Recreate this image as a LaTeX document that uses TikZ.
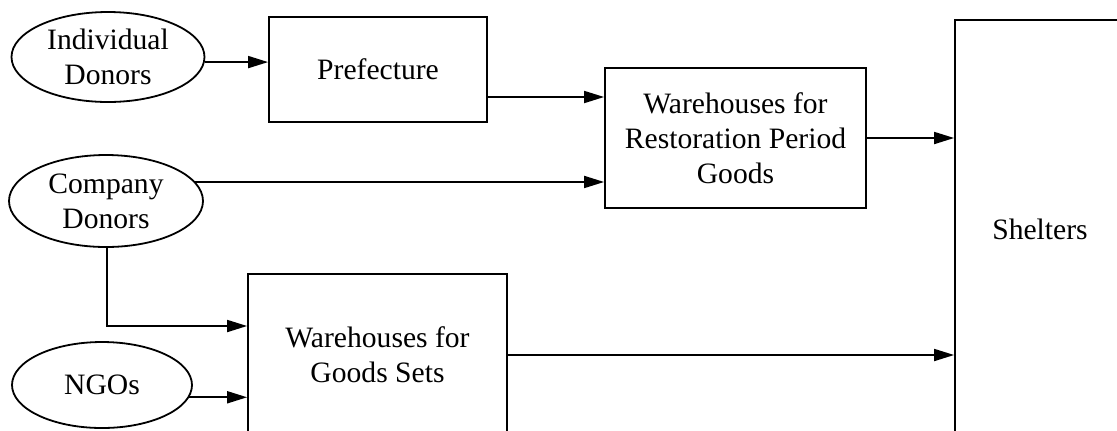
\documentclass[tikz,border=0pt]{standalone}
\usepackage{fontspec}
\setmainfont{Liberation Serif}
\usetikzlibrary{shapes.geometric,arrows.meta,calc}
\begin{document}
\begin{tikzpicture}[x=0.5pt,y=-0.5pt,
  every node/.style={font=\fontsize{14.8}{17.5}\selectfont, align=center, inner sep=0pt},
  donor/.style={draw, ellipse, line width=0.9pt},
  stage/.style={draw, rectangle, line width=0.9pt},
  flow/.style={line width=0.9pt, -{Triangle[length=10pt,width=6pt]}}]
\clip (0,0) rectangle (1117,430);

% sources of relief goods
\node[donor, minimum width=96.5pt, minimum height=45pt] (ind)  at (108,57)  {Individual\\Donors};
\node[donor, minimum width=97pt,   minimum height=46pt] (comp) at (106,201) {Company\\Donors};
\node[donor, minimum width=90pt,   minimum height=43pt] (ngo)  at (102,385) {NGOs};

% intermediate stages
\node[stage, minimum width=109pt,  minimum height=52.5pt] (pref)  at (378,69.5)  {Prefecture};
\node[stage, minimum width=130.5pt,minimum height=70pt]   (rest)  at (735.5,138) {Warehouses for\\Restoration Period\\Goods};
\node[stage, minimum width=129.5pt,minimum height=81pt]   (goods) at (377.5,355) {Warehouses for\\Goods Sets};

% destination
\node[stage, minimum width=85pt, minimum height=209pt] (shel) at (1040,229) {Shelters};

% flows
\draw[flow] (ind.-3) -- (ind.-3 -| pref.west);
\draw[flow] ([yshift=-13.75pt]pref.east) -- ([yshift=-13.75pt]pref.east -| rest.west);
\draw[flow] (comp.12) -- (comp.12 -| rest.west);
\draw[flow] (rest.east) -- (rest.east -| shel.west);
\draw[flow] ([xshift=0.5pt]comp.south) |- ([yshift=14.5pt]goods.west);
\draw[flow] (ngo.-8) -- (ngo.-8 -| goods.west);
\draw[flow] (goods.east) -- (goods.east -| shel.west);
\end{tikzpicture}
\end{document}
